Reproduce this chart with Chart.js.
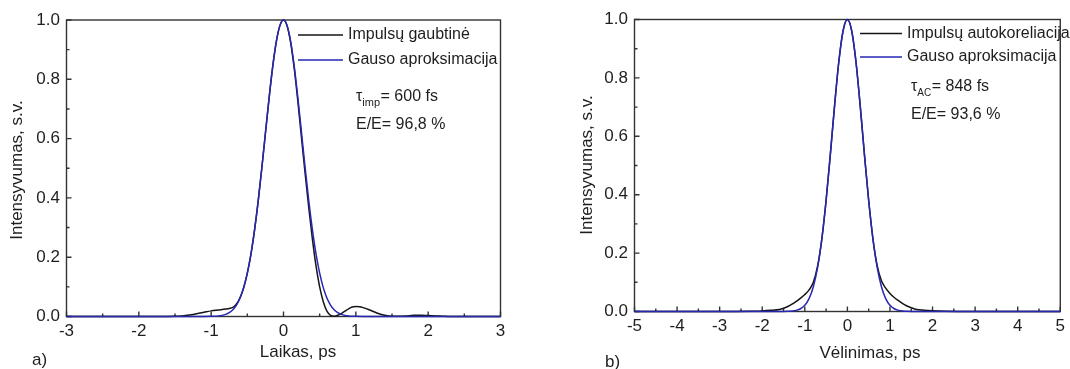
<!DOCTYPE html>
<html><head><meta charset="utf-8">
<script src="https://cdn.jsdelivr.net/npm/chart.js@4.4.0/dist/chart.umd.min.js"></script>
<style>
html,body{margin:0;padding:0;background:#fff;}
body{width:1070px;height:369px;position:relative;overflow:hidden;}
.wrap{position:absolute;top:0;width:535px;height:369px;}
canvas{display:block;}
</style></head><body>
<div class="wrap" style="left:0"><canvas id="cA" width="535" height="369"></canvas></div>
<div class="wrap" style="left:535px"><canvas id="cB" width="535" height="369"></canvas></div>
<script>
// ---------- tick values / labels ----------
const yTickValues = [0, 0.2, 0.4, 0.6, 0.8, 1.0];
const yTickLabels = ['0.0', '0.2', '0.4', '0.6', '0.8', '1.0'];
const yMinorTicks = [0.1, 0.3, 0.5, 0.7, 0.9];

const leftXTickValues = [-3, -2, -1, 0, 1, 2, 3];
const leftXTickLabels = ['-3', '-2', '-1', '0', '1', '2', '3'];
const leftXMinorTicks = [-2.5, -1.5, -0.5, 0.5, 1.5, 2.5];

const rightXTickValues = [-5, -4, -3, -2, -1, 0, 1, 2, 3, 4, 5];
const rightXTickLabels = ['-5', '-4', '-3', '-2', '-1', '0', '1', '2', '3', '4', '5'];
const rightXMinorTicks = [-4.5, -3.5, -2.5, -1.5, -0.5, 0.5, 1.5, 2.5, 3.5, 4.5];

// ---------- a) pulse envelope (black) ----------
const envX = [-3, -1.6, -1.5, -1.4, -1.3, -1.2, -1.1, -1.0, -0.9, -0.8, -0.75, -0.7, -0.65, -0.6, -0.55, -0.5, -0.45, -0.4, -0.35, -0.3, -0.25, -0.2, -0.15, -0.1, -0.05, 0,
  0.05, 0.1, 0.15, 0.2, 0.25, 0.3, 0.35, 0.4, 0.45, 0.5, 0.55, 0.6, 0.65, 0.7, 0.75, 0.8, 0.85, 0.9, 0.95, 1.0, 1.05, 1.1, 1.2, 1.3, 1.4, 1.5, 1.6, 1.7, 1.8, 1.9, 2.0, 2.1, 2.2, 2.3, 3];
const envY = [0, 0, 0.0005, 0.002, 0.005, 0.009, 0.014, 0.019, 0.022, 0.025, 0.027, 0.031, 0.042, 0.064, 0.098, 0.146, 0.21, 0.292, 0.389, 0.5, 0.618, 0.735, 0.841, 0.926, 0.981, 1.0,
  0.98, 0.922, 0.833, 0.722, 0.6, 0.48, 0.365, 0.26, 0.17, 0.1, 0.05, 0.018, 0.004, 0.001, 0.004, 0.01, 0.018, 0.026, 0.032, 0.034, 0.033, 0.03, 0.021, 0.011, 0.004, 0.001, 0.001, 0.002, 0.004, 0.004, 0.003, 0.002, 0.001, 0, 0];

// ---------- a) Gaussian fit (blue) ----------
const fitAX = [-3, -1.2, -1.1, -1.0, -0.95, -0.9, -0.85, -0.8, -0.75, -0.7, -0.65, -0.6, -0.55, -0.5, -0.45, -0.4, -0.35, -0.3, -0.25, -0.2, -0.15, -0.1, -0.05, 0,
  0.05, 0.1, 0.15, 0.2, 0.25, 0.3, 0.35, 0.4, 0.45, 0.5, 0.55, 0.6, 0.65, 0.7, 0.75, 0.8, 0.85, 0.9, 0.95, 1.0, 1.1, 1.2, 3];
const fitAY = [0, 0, 0.0001, 0.0005, 0.001, 0.002, 0.0038, 0.0072, 0.0131, 0.023, 0.0386, 0.0625, 0.0973, 0.146, 0.21, 0.292, 0.389, 0.5, 0.618, 0.735, 0.841, 0.926, 0.981, 1.0,
  0.981, 0.926, 0.841, 0.735, 0.618, 0.5, 0.389, 0.292, 0.21, 0.146, 0.0973, 0.0625, 0.0386, 0.023, 0.0131, 0.0072, 0.0038, 0.002, 0.001, 0.0005, 0.0001, 0, 0];

// ---------- b) autocorrelation (black) ----------
const acX = [-5, -3, -2.6, -2.3, -2.0, -1.8, -1.6, -1.5, -1.4, -1.3, -1.2, -1.1, -1.0, -0.9, -0.8, -0.7, -0.6, -0.5, -0.4, -0.3, -0.2, -0.1, 0,
  0.1, 0.2, 0.3, 0.4, 0.5, 0.6, 0.7, 0.8, 0.9, 1.0, 1.1, 1.2, 1.3, 1.4, 1.5, 1.6, 1.8, 2.0, 2.3, 2.6, 3, 5];
const acY = [0, 0, 0.0003, 0.001, 0.002, 0.004, 0.007, 0.011, 0.017, 0.025, 0.035, 0.046, 0.058, 0.074, 0.1, 0.155, 0.248, 0.38, 0.538, 0.706, 0.857, 0.962, 1.0,
  0.962, 0.857, 0.706, 0.538, 0.38, 0.249, 0.157, 0.105, 0.08, 0.062, 0.048, 0.037, 0.027, 0.019, 0.013, 0.008, 0.0045, 0.0025, 0.001, 0.0003, 0, 0];

// ---------- b) Gaussian fit (blue) ----------
const fitBX = [-5, -1.5, -1.4, -1.3, -1.2, -1.1, -1.0, -0.9, -0.8, -0.7, -0.6, -0.5, -0.4, -0.3, -0.2, -0.1, 0,
  0.1, 0.2, 0.3, 0.4, 0.5, 0.6, 0.7, 0.8, 0.9, 1.0, 1.1, 1.2, 1.3, 1.4, 1.5, 5];
const fitBY = [0, 0.0002, 0.0005, 0.0015, 0.0039, 0.0094, 0.0211, 0.044, 0.0847, 0.151, 0.249, 0.381, 0.539, 0.707, 0.857, 0.962, 1.0,
  0.962, 0.857, 0.707, 0.539, 0.381, 0.249, 0.151, 0.0847, 0.044, 0.0211, 0.0094, 0.0039, 0.0015, 0.0005, 0.0002, 0];

// ---------- texts ----------
const legendA = ['Impulsų gaubtinė', 'Gauso aproksimacija'];
const legendB = ['Impulsų autokoreliacija', 'Gauso aproksimacija'];
const yTitle = 'Intensyvumas, s.v.';

const FONT = '"Liberation Sans", Arial, Helvetica, sans-serif';
const BLACK = '#151515';
const BLUE = '#2727b4';
const FRAME = '#333333';
const TEXT = '#1e1e1e';
Chart.defaults.font.family = FONT;

function pts(xs, ys) { return xs.map((x, i) => ({x: x, y: ys[i]})); }

function txt(ctx, s, x, y, size, align) {
  ctx.font = size + 'px ' + FONT;
  ctx.textAlign = align || 'left';
  ctx.textBaseline = 'middle';
  ctx.fillStyle = TEXT;
  ctx.fillText(s, x, y);
}

function makeChart(id, c) {
  const decor = {
    id: 'decor',
    beforeDatasetsDraw(chart) {
      const ctx = chart.ctx, a = chart.chartArea, xs = chart.scales.x, ys = chart.scales.y;
      ctx.save();
      ctx.strokeStyle = FRAME;
      ctx.lineWidth = 1.4;
      ctx.strokeRect(a.left, a.top, a.right - a.left, a.bottom - a.top);
      ctx.beginPath();
      c.xTicks.forEach(v => { const p = xs.getPixelForValue(v); ctx.moveTo(p, a.bottom); ctx.lineTo(p, a.bottom - 5); });
      c.xMinor.forEach(v => { const p = xs.getPixelForValue(v); ctx.moveTo(p, a.bottom); ctx.lineTo(p, a.bottom - 3); });
      yTickValues.forEach(v => { const p = ys.getPixelForValue(v); ctx.moveTo(a.left, p); ctx.lineTo(a.left + 5, p); });
      yMinorTicks.forEach(v => { const p = ys.getPixelForValue(v); ctx.moveTo(a.left, p); ctx.lineTo(a.left + 3, p); });
      ctx.stroke();
      ctx.restore();
    },
    afterDraw(chart) {
      const ctx = chart.ctx;
      ctx.save();
      // axis titles
      txt(ctx, c.xTitle, c.xTitlePos[0], c.xTitlePos[1], 17, 'center');
      ctx.save();
      ctx.translate(c.yTitlePos[0], c.yTitlePos[1]);
      ctx.rotate(-Math.PI / 2);
      txt(ctx, yTitle, 0, 0, 17, 'center');
      ctx.restore();
      txt(ctx, c.panel, c.panelPos[0], c.panelPos[1], 17, 'left');
      // legend
      const L = c.legend;
      ctx.lineWidth = 1.5;
      ctx.strokeStyle = BLACK;
      ctx.beginPath(); ctx.moveTo(L.x0, L.y1); ctx.lineTo(L.x1, L.y1); ctx.stroke();
      ctx.strokeStyle = BLUE;
      ctx.beginPath(); ctx.moveTo(L.x0, L.y2); ctx.lineTo(L.x1, L.y2); ctx.stroke();
      txt(ctx, c.legendTexts[0], L.tx, L.y1, 16);
      txt(ctx, c.legendTexts[1], L.tx, L.y2, 16);
      // annotations
      const A = c.ann;
      txt(ctx, 'τ', A.x, A.y1, 16);
      ctx.font = '16px ' + FONT;
      let w = ctx.measureText('τ').width;
      txt(ctx, A.sub, A.x + w, A.y1 + 6, A.subSize);
      ctx.font = A.subSize + 'px ' + FONT;
      w += ctx.measureText(A.sub).width + 0.5;
      txt(ctx, A.rest, A.x + w, A.y1, 16);
      txt(ctx, A.line2, A.x, A.y2, 16);
      ctx.restore();
    }
  };

  return new Chart(document.getElementById(id), {
    type: 'line',
    data: {
      datasets: [
        {data: pts(c.blueX, c.blueY), borderColor: BLUE, borderWidth: 1.5, pointRadius: 0, fill: false, cubicInterpolationMode: 'monotone', clip: false},
        {data: pts(c.blackX, c.blackY), borderColor: BLACK, borderWidth: 1.5, pointRadius: 0, fill: false, cubicInterpolationMode: 'monotone', clip: false}
      ]
    },
    options: {
      responsive: false,
      animation: false,
      events: [],
      parsing: false,
      layout: {padding: {left: 0, top: c.padTop, right: c.padRight, bottom: 0}},
      plugins: {legend: {display: false}, tooltip: {enabled: false}, title: {display: false}},
      scales: {
        x: {
          type: 'linear', position: 'bottom', min: c.xMin, max: c.xMax,
          afterBuildTicks: s => { s.ticks = c.xTicks.map(v => ({value: v})); },
          afterFit: s => { s.height = c.xAxisH; },
          ticks: {callback: (v, i) => c.xLabels[i], font: {size: 17}, color: TEXT, padding: 5, maxRotation: 0, autoSkip: false},
          grid: {display: false, drawTicks: false},
          border: {display: false}
        },
        y: {
          type: 'linear', position: 'left', min: 0, max: 1,
          afterBuildTicks: s => { s.ticks = yTickValues.map(v => ({value: v})); },
          afterFit: s => { s.width = c.yAxisW; },
          ticks: {callback: (v, i) => yTickLabels[i], font: {size: 17}, color: TEXT, padding: 6.5, autoSkip: false},
          grid: {display: false, drawTicks: false},
          border: {display: false}
        }
      }
    },
    plugins: [decor]
  });
}

makeChart('cA', {
  blackX: envX, blackY: envY, blueX: fitAX, blueY: fitAY,
  xMin: -3, xMax: 3, xTicks: leftXTickValues, xLabels: leftXTickLabels, xMinor: leftXMinorTicks,
  padTop: 20, padRight: 34.5, xAxisH: 52.5, yAxisW: 66.5,
  xTitle: 'Laikas, ps', xTitlePos: [298, 352], yTitlePos: [17, 170],
  panel: 'a)', panelPos: [32, 360],
  legendTexts: legendA, legend: {x0: 298, x1: 343, tx: 348, y1: 35, y2: 60},
  ann: {x: 356, y1: 97, y2: 125, sub: 'imp', subSize: 11, rest: '= 600 fs', line2: 'E/E= 96,8 %'}
});

makeChart('cB', {
  blackX: acX, blackY: acY, blueX: fitBX, blueY: fitBY,
  xMin: -5, xMax: 5, xTicks: rightXTickValues, xLabels: rightXTickLabels, xMinor: rightXMinorTicks,
  padTop: 19.5, padRight: 8.5, xAxisH: 57.5, yAxisW: 99.5,
  xTitle: 'Vėlinimas, ps', xTitlePos: [335, 353], yTitlePos: [52, 165],
  panel: 'b)', panelPos: [70, 362],
  legendTexts: legendB, legend: {x0: 325, x1: 367, tx: 372, y1: 33.5, y2: 57},
  ann: {x: 376, y1: 87, y2: 115, sub: 'AC', subSize: 10, rest: '= 848 fs', line2: 'E/E= 93,6 %'}
});
</script>
</body></html>
